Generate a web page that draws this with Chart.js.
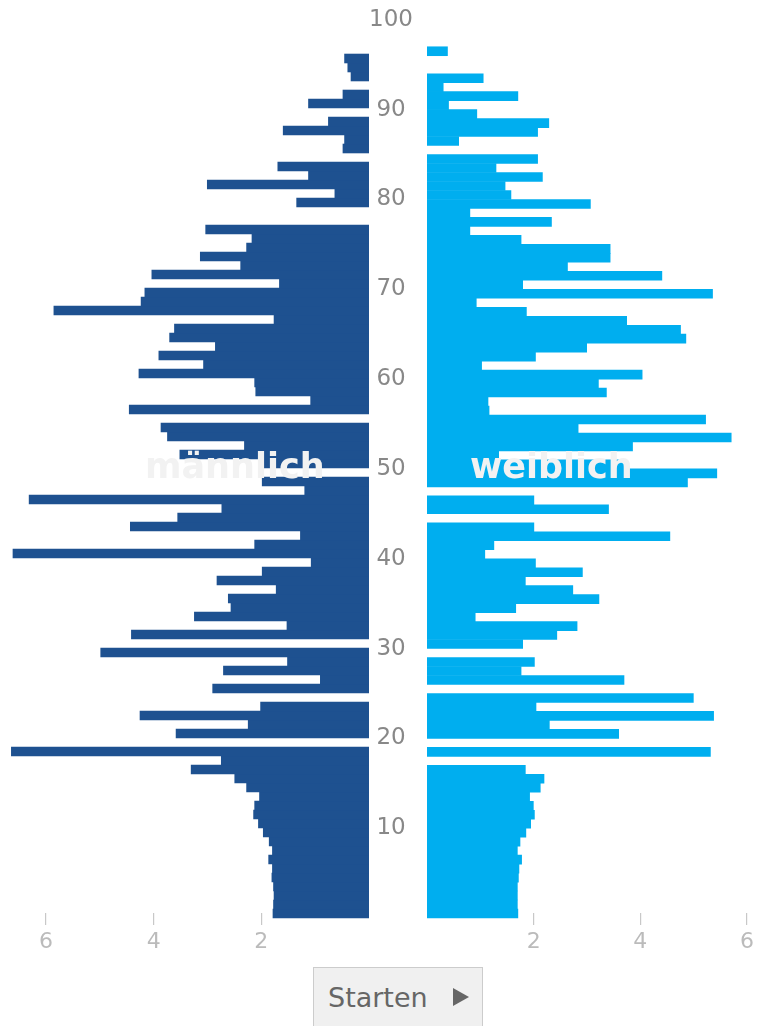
<!DOCTYPE html>
<html>
<head>
<meta charset="utf-8">
<script src="https://cdn.jsdelivr.net/npm/chart.js@4.4.0/dist/chart.umd.min.js"></script>
<style>
  body { margin: 0; background: #fff; font-family: "DejaVu Sans", sans-serif; overflow: hidden; }
  #page { position: relative; width: 758px; height: 1026px; overflow: hidden; }
  #leftBox { position: absolute; left: 0; top: 0; width: 369px; height: 968px; }
  #rightBox { position: absolute; left: 369px; top: 0; width: 389px; height: 968px; }
  .sex { position: absolute; top: 449px; font-weight: bold; font-size: 35px; line-height: 35px; color: #f2f2f2; white-space: nowrap; }
  #button { position: absolute; left: 313px; top: 967px; width: 168px; height: 70px; background: #f0f0f0; border: 1px solid #cccccc; }
  #button span { position: absolute; left: 14px; top: 16px; font-size: 27px; line-height: 27px; color: #666; }
  #button i { position: absolute; left: 139px; top: 20px; width: 0; height: 0; border-left: 16px solid #666; border-top: 9.5px solid transparent; border-bottom: 9.5px solid transparent; }
</style>
</head>
<body>
<div id="page">
  <div id="leftBox"><canvas id="maleChart"></canvas></div>
  <div id="rightBox"><canvas id="femaleChart"></canvas></div>
  <div class="sex" style="left:145px">männlich</div>
  <div class="sex" style="left:470px">weiblich</div>
  <div id="button"><span>Starten</span><i></i></div>
</div>
<script>
// age of each bar (bar covers age .. age+1)
const ages = [
  0, 1, 2, 3, 4, 5, 6, 7, 8, 9,
  10, 11, 12, 13, 14, 15, 16, 17, 18, 19,
  20, 21, 22, 23, 24, 25, 26, 27, 28, 29,
  30, 31, 32, 33, 34, 35, 36, 37, 38, 39,
  40, 41, 42, 43, 44, 45, 46, 47, 48, 49,
  50, 51, 52, 53, 54, 55, 56, 57, 58, 59,
  60, 61, 62, 63, 64, 65, 66, 67, 68, 69,
  70, 71, 72, 73, 74, 75, 76, 77, 78, 79,
  80, 81, 82, 83, 84, 85, 86, 87, 88, 89,
  90, 91, 92, 93, 94, 95, 96, 97, 98, 99
];

const male = [
  1.79, 1.78, 1.77, 1.78, 1.81, 1.80, 1.87, 1.80, 1.86, 1.97,
  2.06, 2.15, 2.13, 2.04, 2.28, 2.50, 3.31, 2.75, 6.65, 0,
  3.59, 2.25, 4.26, 2.02, 0, 2.91, 0.91, 2.71, 1.52, 4.99,
  0, 4.42, 1.53, 3.25, 2.57, 2.62, 1.73, 2.83, 1.99, 1.08,
  6.62, 2.13, 1.28, 4.44, 3.56, 2.74, 6.32, 1.20, 1.99, 0,
  1.99, 3.52, 2.32, 3.75, 3.87, 0, 4.46, 1.09, 2.11, 2.13,
  4.28, 3.08, 3.91, 2.86, 3.71, 3.62, 1.77, 5.86, 4.24, 4.17,
  1.67, 4.04, 2.39, 3.14, 2.28, 2.18, 3.04, 0, 0, 1.35,
  0.64, 3.01, 1.13, 1.70, 0, 0.49, 0.46, 1.60, 0.76, 0,
  1.13, 0.49, 0, 0.34, 0.40, 0.46, 0, 0, 0, 0
];

const female = [
  1.71, 1.70, 1.70, 1.70, 1.72, 1.73, 1.78, 1.70, 1.75, 1.86,
  1.95, 2.02, 2.00, 1.93, 2.13, 2.20, 1.85, 0, 5.32, 0,
  3.60, 2.30, 5.38, 2.05, 5.00, 0, 3.70, 1.77, 2.02, 0,
  1.80, 2.44, 2.82, 0.91, 1.67, 3.23, 2.74, 1.85, 2.92, 2.04,
  1.09, 1.26, 4.56, 2.01, 0, 3.41, 2.01, 0, 4.89, 5.44,
  3.70, 1.35, 3.86, 5.71, 2.84, 5.23, 1.17, 1.15, 3.37, 3.22,
  4.04, 1.03, 2.04, 3.00, 4.86, 4.76, 3.75, 1.87, 0.93, 5.36,
  1.80, 4.41, 2.64, 3.44, 3.44, 1.77, 0.81, 2.34, 0.81, 3.07,
  1.58, 1.47, 2.17, 1.30, 2.08, 0, 0.60, 2.08, 2.29, 0.94,
  0.41, 1.71, 0.31, 1.06, 0, 0, 0.39, 0, 0, 0
];

const xTicks = [2, 4, 6];
const ageTicks = [10, 20, 30, 40, 50, 60, 70, 80, 90, 100];
const maleMax = 6.855;
const femaleMax = 6.167;
// the axis line sits a little above age 0, the lowest bar hangs below it
const ageMin = 0.556;

Chart.defaults.font.family = "'DejaVu Sans', sans-serif";

function toPoints(values) {
  // empty age groups get no bar at all
  return values.map((v, i) => ({ x: v === 0 ? null : v, y: ages[i] + 0.5 }));
}

function xScale(max, reverse) {
  return {
    type: 'linear',
    min: 0,
    max: max,
    reverse: reverse,
    z: 1,
    afterBuildTicks: s => { s.ticks = xTicks.map(v => ({ value: v })); },
    afterFit: s => { s.height = 55; },
    grid: { color: 'rgba(255,255,255,0.22)', tickColor: '#c8c8c8', tickLength: 12, lineWidth: 1.2 },
    border: { display: false },
    ticks: { color: '#bbbbbb', font: { size: 22 }, padding: 4, maxRotation: 0 }
  };
}

function yScale(showAges) {
  const y = {
    type: 'linear',
    min: ageMin,
    max: 100,
    offset: false,
    display: showAges,
    position: 'left',
    grid: { display: false, offset: false },
    border: { display: false },
    ticks: { color: '#888888', font: { size: 23 }, padding: 6, crossAlign: 'center' }
  };
  if (showAges) {
    y.afterBuildTicks = s => { s.ticks = ageTicks.map(v => ({ value: v })); };
    y.afterFit = s => { s.width = 58; };
  }
  return y;
}

function makeChart(id, values, color, max, reverse, showAges) {
  return new Chart(document.getElementById(id), {
    type: 'bar',
    data: {
      datasets: [{
        data: toPoints(values),
        backgroundColor: color,
        borderWidth: 0,
        inflateAmount: 0,
        barThickness: 9.6,
        clip: false
      }]
    },
    options: {
      indexAxis: 'y',
      responsive: true,
      maintainAspectRatio: false,
      animation: false,
      layout: { padding: { top: 18, left: 0, right: 0, bottom: 0 } },
      plugins: { legend: { display: false }, tooltip: { enabled: false } },
      scales: {
        x: xScale(max, reverse),
        y: yScale(showAges)
      }
    }
  });
}

makeChart('maleChart', male, '#1e5190', maleMax, true, false);
makeChart('femaleChart', female, '#00aeef', femaleMax, false, true);
</script>
</body>
</html>
